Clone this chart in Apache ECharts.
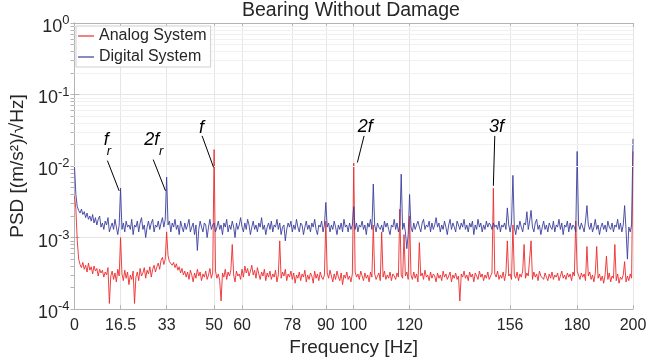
<!DOCTYPE html>
<html><head><meta charset="utf-8">
<script src="https://cdn.jsdelivr.net/npm/echarts@6/dist/echarts.min.js"></script>
<style>html,body{margin:0;padding:0;background:#fff}#c{width:651px;height:362px}</style>
</head><body><div id="c"></div>
<script>
// ---- data ----
const FREQ_STEP = 0.5;                 // Hz between PSD samples (0 .. 200 Hz)
const VALUE_UNIT = 1e-4;               // PSD values below are in units of 1e-4 (m/s^2)/sqrt(Hz)
const seriesNames = ['Analog System', 'Digital System'];
const xTickValues = [0, 16.5, 33, 50, 60, 78, 90, 100, 120, 156, 180, 200];
const yTickValues = [1e-4, 1e-3, 1e-2, 1e-1, 1];

const analog = [
 38,25,9,5,4.2,3.8,4.5,3.6,4.1,3.3,4.4,3.5,3.9,3.1,4.0,3.4,3.7,2.9,3.6,3.2,
 3.5,2.8,3.3,3.0,3.8,1.2,2.9,3.4,2.6,3.2,2.4,3.6,2.9,10,3.1,2.5,3.5,2.7,3.3,2.2,
 3.0,2.6,3.4,1.2,2.8,3.3,2.5,3.7,2.9,3.2,3.8,2.7,3.5,3.1,3.9,2.8,3.6,4.1,3.3,3.9,
 4.4,3.6,4.8,5.3,4.2,5.0,12,5.6,4.6,4.9,4.1,4.5,3.8,4.3,3.5,3.9,3.2,3.7,3.0,3.4,
 2.8,3.3,2.6,3.5,3.0,2.4,3.2,2.7,3.6,2.9,3.3,2.5,3.1,2.8,3.4,2.6,3.0,3.7,2.7,3.2,
 170,3.4,2.7,3.1,2.5,1.3,3.2,2.8,3.6,2.6,3.3,2.9,3.5,8,3.0,2.4,3.4,2.9,3.1,2.6,
 3.6,2.8,4.0,3.2,3.7,2.9,3.4,4.1,3.0,3.5,2.7,3.8,3.1,2.6,3.3,2.9,3.6,2.5,3.2,2.8,
 3.4,2.6,3.1,2.8,3.5,2.4,3.0,9,2.7,3.3,2.9,3.6,2.5,3.1,2.8,3.4,2.6,3.2,2.3,3.0,
 2.7,3.3,2.5,3.1,2.8,3.5,2.4,3.0,2.6,3.2,2.9,2.3,3.4,2.7,3.1,2.5,3.3,2.8,2.6,3.0,
 17,3.2,2.7,3.5,2.9,2.4,3.1,2.6,3.4,2.8,2.5,3.2,2.2,3.0,2.7,3.3,2.6,2.9,2.4,3.1,
 110,3.3,2.8,3.1,2.6,3.4,2.9,2.5,3.2,2.7,3.0,2.4,3.3,2.8,15,3.1,2.6,2.9,3.2,2.5,
 12,2.8,3.4,2.6,3.0,2.7,3.3,2.5,3.1,2.9,2.6,3.2,2.8,25,3.0,2.7,11,2.9,3.3,2.6,
 20,3.0,2.6,3.3,2.7,3.1,2.4,8.5,2.9,3.2,2.6,3.5,2.8,3.0,2.5,3.3,2.7,3.1,2.9,2.4,
 3.2,2.7,3.0,2.5,3.4,2.8,3.1,2.6,2.9,3.3,2.4,3.0,2.7,3.2,2.6,2.9,1.3,3.1,2.8,3.4,
 2.7,3.0,2.5,3.3,2.8,3.1,2.4,3.2,2.9,2.6,3.4,2.8,3.1,2.5,3.0,2.7,3.3,2.6,2.9,3.2,
 49,3.1,2.8,3.4,2.6,3.0,2.7,3.3,2.5,3.2,9,2.9,3.1,2.6,15,3.0,2.7,3.3,2.5,3.1,
 2.8,3.4,8,2.7,3.2,2.9,3.0,9,2.6,3.3,2.8,3.1,2.5,3.4,2.9,3.0,2.6,3.2,2.8,2.5,
 3.1,2.7,3.3,2.6,3.0,2.8,3.2,2.5,2.9,3.4,2.7,3.0,2.6,3.2,2.8,3.1,2.5,3.3,2.9,17,
 3.4,3.0,2.6,3.2,2.8,3.1,2.5,7.5,2.9,3.3,2.6,3.0,2.4,3.2,7.5,2.7,3.1,2.5,2.9,2.3,
 3.0,5.5,2.6,3.2,2.4,2.9,2.7,8,2.5,3.1,2.3,2.8,2.6,3.0,4.6,2.4,2.9,2.5,3.1,2.7,
 160
];

const digital = [
 100,40,27,24,22,25,21,23,19,22,18,20,17,21,16,19,15,18,20,14,
 16,13,17,15,19,12,14,16,13,18,14,11,15,49,13,16,12,17,14,15,
 13,18,11,15,14,17,12,16,19,13,15,10,14,17,13,16,18,12,15,14,
 17,13,16,19,14,18,70,15,17,12,16,14,18,13,15,11,17,14,12,16,
 13,15,18,12,14,16,11,15,6.6,13,17,14,12,16,15,10,14,18,13,15,
 16,12,14,17,13,15,11,16,14,18,12,15,13,17,14,10,16,13,15,19,
 14,12,16,13,18,15,11,14,17,13,15,12,16,14,19,13,15,11,14,16,
 13,17,12,15,14,18,13,16,11,14,15,9,13,16,14,17,12,15,13,18,
 14,12,16,15,11,14,17,13,15,12,16,14,18,13,11,15,14,17,12,15,
 31,14,16,12,15,13,17,14,11,15,13,16,12,18,14,15,12,16,13,15,
 27,13,16,12,15,14,17,13,15,11,16,14,18,13,56,15,12,16,14,13,
 15,12,17,14,16,13,11,15,14,18,13,16,12,15,77,13,16,12,7,11,
 40,14,12,16,13,15,17,14,12,16,18,13,15,14,17,12,16,13,15,19,
 14,16,12,15,13,17,14,11,15,18,13,16,14,12,17,15,13,16,14,18,
 13,15,12,16,14,17,11,15,13,18,14,16,12,15,13,17,14,16,15,13,
 16,14,15,13,17,12,15,14,16,13,26,15,12,16,74,14,11,15,13,17,
 14,12,16,15,23,13,17,24,14,12,16,18,13,15,11,14,17,13,15,12,
 16,14,13,17,12,15,14,18,13,16,11,15,14,17,12,16,13,15,14,12,
 160,15,13,16,14,12,17,28,15,13,16,12,14,18,13,15,11,14,16,13,
 15,12,17,14,13,16,12,15,14,18,13,16,12,15,28,13,5,14,12,15,
 240
];

// annotations: label texts at [Hz, PSD] and arrows from [Hz, PSD] to [Hz, PSD]
const annotationLabels = [
  {text: 'f',  at: [11.4, 0.023],  sub: false},
  {text: 'r',  at: [12.3, 0.0160], sub: true},
  {text: '2f', at: [27.7, 0.023],  sub: false},
  {text: 'r',  at: [31.0, 0.0160], sub: true},
  {text: 'f',  at: [45.5, 0.0337], sub: false},
  {text: '2f', at: [104.1, 0.0348], sub: false},
  {text: '3f', at: [151.1, 0.0348], sub: false}
];
const annotationArrows = [
  {from: [11.8, 0.0119],  to: [16.0, 0.0045]},
  {from: [28.2, 0.0123],  to: [32.6, 0.0045]},
  {from: [45.7, 0.0264],  to: [49.8, 0.0096]},
  {from: [103.7, 0.0264], to: [101.3, 0.0112]},
  {from: [150.5, 0.0264], to: [150.0, 0.0053]}
];

// ---- chart ----
const FONT = '"Liberation Sans", Arial, Helvetica, sans-serif';
const TXT = '#262626';
const AXC = '#b4b4b4';
const GRIDC = '#e6e6e6';

const toXY = arr => arr.map((v, i) => [i * FREQ_STEP, v * VALUE_UNIT]);

const minorY = [];
for (let e = -4; e < 0; e++) for (let m = 2; m <= 9; m++) minorY.push(+(m * Math.pow(10, e)).toPrecision(3));
const allYTicks = yTickValues.concat(minorY);

const chart = echarts.init(document.getElementById('c'), null, {renderer: 'canvas'});
const option = {
  animation: false,
  backgroundColor: '#fff',
  textStyle: {fontFamily: FONT},
  title: {
    text: 'Bearing Without Damage', left: 242, top: 1, padding: 0,
    textStyle: {fontFamily: FONT, fontSize: 19.5, fontWeight: 'normal', color: TXT}
  },
  legend: {
    data: seriesNames.map(n => ({name: n, icon: 'rect'})), orient: 'vertical', left: 76, top: 26,
    itemWidth: 16, itemHeight: 1.2, itemGap: 5, z: 20,
    padding: [2, 4, 2, 2], borderColor: '#cfcfcf', borderWidth: 1, backgroundColor: '#fff',
    textStyle: {fontFamily: FONT, fontSize: 16, color: TXT, backgroundColor: '#fff'}
  },
  grid: {left: 70, right: 18, top: 23, bottom: 51},
  xAxis: [{
    type: 'value', min: 0, max: 200, position: 'bottom',
    name: 'Frequency [Hz]', nameLocation: 'middle', nameGap: 26,
    nameTextStyle: {fontFamily: FONT, fontSize: 19, color: TXT},
    axisLine: {show: true, lineStyle: {color: AXC, width: 1}},
    axisTick: {show: true, inside: true, length: 4, customValues: xTickValues, lineStyle: {color: AXC}},
    axisLabel: {customValues: xTickValues, fontFamily: FONT, fontSize: 16, color: TXT, margin: 8, hideOverlap: false},
    splitLine: {show: true, lineStyle: {color: GRIDC, width: 1}}
  }, {
    type: 'value', min: 0, max: 200, position: 'top',
    axisLine: {show: true, lineStyle: {color: AXC, width: 1}},
    axisTick: {show: true, inside: true, length: 4, customValues: xTickValues, lineStyle: {color: AXC}},
    axisLabel: {show: false}, splitLine: {show: false}
  }],
  yAxis: [{
    type: 'log', logBase: 10, min: 1e-4, max: 1, position: 'left',
    name: 'PSD [(m/s²)/√Hz]', nameLocation: 'middle', nameGap: 44,
    nameTextStyle: {fontFamily: FONT, fontSize: 19, color: TXT},
    axisLine: {show: true, lineStyle: {color: AXC, width: 1}},
    axisTick: {show: true, inside: true, length: 5, lineStyle: {color: AXC}},
    axisLabel: {
      margin: 5,
      formatter: v => '{b|10}{s|' + Math.round(Math.log10(v)) + '}',
      rich: {
        b: {fontFamily: FONT, fontSize: 18, color: TXT, lineHeight: 18, padding: [8, 0, 0, 0]},
        s: {fontFamily: FONT, fontSize: 13, color: TXT, lineHeight: 14, verticalAlign: 'top'}
      }
    },
    splitLine: {show: true, lineStyle: {color: GRIDC, width: 1}}
  }, {
    type: 'log', logBase: 10, min: 1e-4, max: 1, position: 'right',
    axisLine: {show: true, lineStyle: {color: AXC, width: 1}},
    axisTick: {show: true, inside: true, length: 4, customValues: allYTicks, lineStyle: {color: AXC}},
    axisLabel: {show: false}, splitLine: {show: false}
  }],
  series: [{
    name: seriesNames[0], type: 'line', data: toXY(analog),
    showSymbol: false, symbol: 'none', sampling: 'none',
    lineStyle: {color: '#ec2b2e', width: 0.9}, itemStyle: {color: '#ec2b2e'}, z: 2
  }, {
    name: seriesNames[1], type: 'line', data: toXY(digital),
    showSymbol: false, symbol: 'none', sampling: 'none',
    lineStyle: {color: '#3a3e9c', width: 0.9}, itemStyle: {color: '#3a3e9c'}, z: 3
  }, {
    name: 'minorGrid', type: 'line', data: [], z: 1, silent: true,
    markLine: {
      silent: true, symbol: 'none', animation: false, label: {show: false},
      lineStyle: {color: '#f1f1f1', width: 1, type: 'solid'},
      data: minorY.map(v => ({yAxis: v}))
    }
  }, {
    name: 'annotations', type: 'line', data: [], z: 5, silent: true,
    markLine: {
      silent: true, symbol: ['none', 'arrow'], symbolSize: [0, 7], animation: false,
      label: {show: false}, lineStyle: {color: '#000', width: 1, type: 'solid'},
      data: annotationArrows.map(a => [{coord: a.from}, {coord: a.to}])
    },
    markPoint: {
      silent: true, symbol: 'circle', symbolSize: 1, animation: false,
      itemStyle: {color: 'rgba(0,0,0,0)'},
      data: annotationLabels.map(l => ({
        coord: l.at,
        label: {show: true, position: 'inside', formatter: l.text, fontFamily: FONT,
                fontStyle: 'italic', fontSize: l.sub ? 13 : 18, color: '#000'}
      }))
    }
  }]
};
chart.setOption(option);
</script>
</body></html>
